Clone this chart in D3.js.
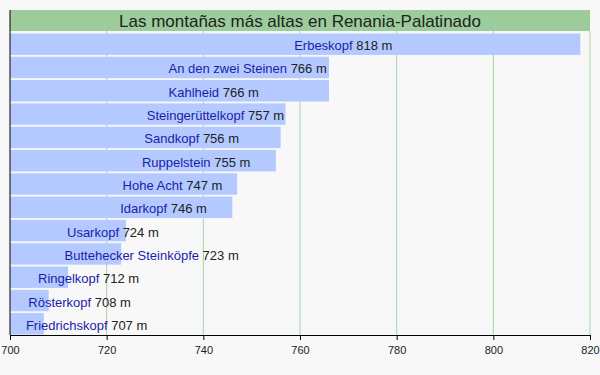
<!DOCTYPE html>
<html>
<head>
<meta charset="utf-8">
<script src="https://cdn.jsdelivr.net/npm/d3@7"></script>
<style>
  body { margin: 0; background: #f8f8f8; }
  svg { display: block; font-family: "Liberation Sans", Arial, sans-serif; }
</style>
</head>
<body>
<div id="chart"></div>
<script>
var title = "Las montañas más altas en Renania-Palatinado";
var names = ["Erbeskopf", "An den zwei Steinen", "Kahlheid", "Steingerüttelkopf", "Sandkopf",
  "Ruppelstein", "Hohe Acht", "Idarkopf", "Usarkopf", "Buttehecker Steinköpfe",
  "Ringelkopf", "Rösterkopf", "Friedrichskopf"];
var heights = [818, 766, 766, 757, 756, 755, 747, 746, 724, 723, 712, 708, 707];
var ticks = [700, 720, 740, 760, 780, 800, 820];

var width = 600, height = 375,
    margin = {left: 10, right: 10, top: 10, bottom: 40};

var svg = d3.select("#chart").append("svg")
    .attr("width", width)
    .attr("height", height);

var x = d3.scaleLinear().domain([700, 820]).range([margin.left, width - margin.right]);
var y = d3.scaleBand().domain(names).range([33, 335]).paddingInner(0.08).paddingOuter(0.02);

// gridlines
svg.append("g").selectAll("line")
  .data(ticks.slice(1))
  .enter().append("line")
    .attr("x1", function (d) { return x(d); })
    .attr("x2", function (d) { return x(d); })
    .attr("y1", 31)
    .attr("y2", 335)
    .attr("stroke", "#a8d4a8")
    .attr("stroke-width", 1);

// title band
svg.append("rect")
  .attr("x", margin.left)
  .attr("y", 10)
  .attr("width", x(820) - x(700))
  .attr("height", 21)
  .attr("fill", "#9ccc9c");
svg.append("text")
  .attr("x", (x(700) + x(820)) / 2)
  .attr("y", 27)
  .attr("text-anchor", "middle")
  .attr("font-size", "17px")
  .attr("fill", "#222")
  .text(title);

// bars
svg.append("g").selectAll("rect")
  .data(names)
  .enter().append("rect")
    .attr("x", x(700))
    .attr("y", function (d) { return y(d); })
    .attr("width", function (d, i) { return x(heights[i]) - x(700); })
    .attr("height", y.bandwidth())
    .attr("fill", "#b3c9ff");

// labels, starting at the middle of each bar
var lbl = svg.append("g").selectAll("text")
  .data(names)
  .enter().append("text")
    .attr("x", function (d, i) { return (x(700) + x(heights[i])) / 2 - 1; })
    .attr("y", function (d) { return y(d) + y.bandwidth() / 2 + 6; })
    .attr("font-size", "13px");
lbl.append("tspan").attr("fill", "#1c1caa").text(function (d) { return d; });
lbl.append("tspan").attr("fill", "#222").text(function (d, i) { return " " + heights[i] + " m"; });

// axes
var xAxis = d3.axisBottom(x).tickValues(ticks).tickSize(5).tickPadding(6);
var gx = svg.append("g")
  .attr("transform", "translate(0,335)")
  .call(xAxis);
gx.select(".domain").attr("stroke", "#000");
gx.selectAll("text").attr("font-size", "11px").attr("fill", "#222")
  .style("font-family", "Liberation Sans, Arial, sans-serif");

svg.append("line")
  .attr("x1", x(700)).attr("x2", x(700))
  .attr("y1", 10).attr("y2", 335)
  .attr("stroke", "#000");
</script>
</body>
</html>
